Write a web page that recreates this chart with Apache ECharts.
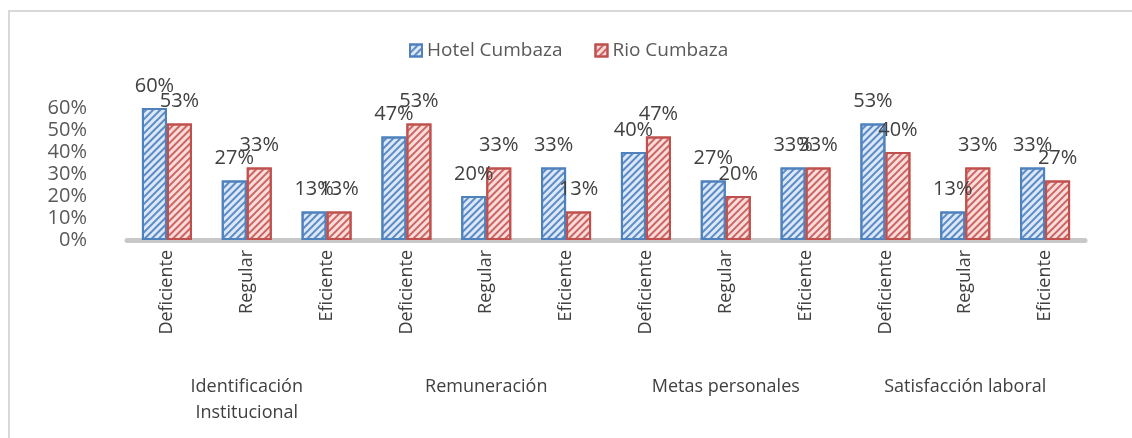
<!DOCTYPE html>
<html>
<head>
<meta charset="utf-8">
<script src="https://cdn.jsdelivr.net/npm/echarts@6/dist/echarts.min.js"></script>
<style>
	html, body { margin: 0; padding: 0; background: #fff; }
	#frame { position: absolute; left: 8px; top: 10px; width: 1140px; height: 440px;
		border-left: 2px solid #d9d9d9; border-top: 2px solid #d9d9d9; }
	#main { position: absolute; left: 0; top: 0; width: 1132px; height: 438px; }
</style>
</head>
<body>
<div id="frame"></div>
<div id="main"></div>
<script>
var niveles = ['Deficiente', 'Regular', 'Eficiente',
	'Deficiente', 'Regular', 'Eficiente',
	'Deficiente', 'Regular', 'Eficiente',
	'Deficiente', 'Regular', 'Eficiente'];
var dimensiones = ['Identificación\nInstitucional', 'Remuneración', 'Metas personales', 'Satisfacción laboral'];
var hotelCumbaza = [60, 27, 13, 47, 20, 33, 40, 27, 33, 53, 13, 33];
var rioCumbaza = [53, 33, 13, 53, 33, 13, 47, 20, 33, 40, 33, 27];
var yTicks = [0, 10, 20, 30, 40, 50, 60];

var fuente = '"Open Sans", "Noto Sans", sans-serif';

// rayas diagonales tipo Excel
function rayado(color) {
	return {
		symbol: 'rect',
		symbolSize: 1,
		color: color,
		dashArrayX: [1, 0],
		dashArrayY: [1.5, 3],
		rotation: -Math.PI / 4
	};
}

var myChart = echarts.init(document.getElementById('main'));

var option = {
	animation: false,
	textStyle: { fontFamily: fuente },
	legend: {
		left: 404,
		top: 36,
		icon: 'rect',
		itemWidth: 12,
		itemHeight: 12,
		itemGap: 32,
		textStyle: { fontFamily: fuente, fontSize: 19, color: '#595959' },
		data: ['Hotel Cumbaza', 'Rio Cumbaza']
	},
	grid: {
		left: 127,
		right: 47,
		top: 108,
		bottom: 198
	},
	xAxis: [{
		type: 'category',
		data: niveles,
		axisLine: { lineStyle: { color: '#c8c8c8', width: 5 } },
		axisTick: { show: false },
		axisLabel: {
			rotate: 90,
			margin: 10,
			fontSize: 18,
			color: '#404040',
			fontFamily: fuente
		}
	}, {
		type: 'category',
		position: 'bottom',
		offset: 126,
		data: dimensiones,
		axisLine: { show: false },
		axisTick: { show: false },
		axisLabel: {
			margin: 8,
			fontSize: 18,
			lineHeight: 26,
			color: '#404040',
			fontFamily: fuente
		}
	}],
	yAxis: {
		type: 'value',
		min: 0,
		max: yTicks[yTicks.length - 1],
		interval: 10,
		splitLine: { show: false },
		axisLine: { show: false },
		axisTick: { show: false },
		axisLabel: {
			margin: 40,
			fontSize: 20,
			color: '#595959',
			fontFamily: fuente,
			formatter: '{value}%'
		}
	},
	series: [{
		name: 'Hotel Cumbaza',
		type: 'bar',
		xAxisIndex: 0,
		barWidth: 25,
		barGap: '0%',
		data: hotelCumbaza,
		itemStyle: {
			color: '#dce8f6',
			borderColor: '#4f81bd',
			borderWidth: 2,
			decal: rayado('#5b8ac6')
		},
		label: {
			show: true,
			position: 'top',
			distance: 12,
			fontSize: 20,
			color: '#404040',
			fontFamily: fuente,
			formatter: '{c}%'
		}
	}, {
		name: 'Rio Cumbaza',
		type: 'bar',
		xAxisIndex: 0,
		barWidth: 25,
		barGap: '0%',
		data: rioCumbaza,
		itemStyle: {
			color: '#f8dcdb',
			borderColor: '#c0504d',
			borderWidth: 2,
			decal: rayado('#cc6662')
		},
		label: {
			show: true,
			position: 'top',
			distance: 12,
			fontSize: 20,
			color: '#404040',
			fontFamily: fuente,
			formatter: '{c}%'
		}
	}]
};

myChart.setOption(option);
</script>
</body>
</html>
